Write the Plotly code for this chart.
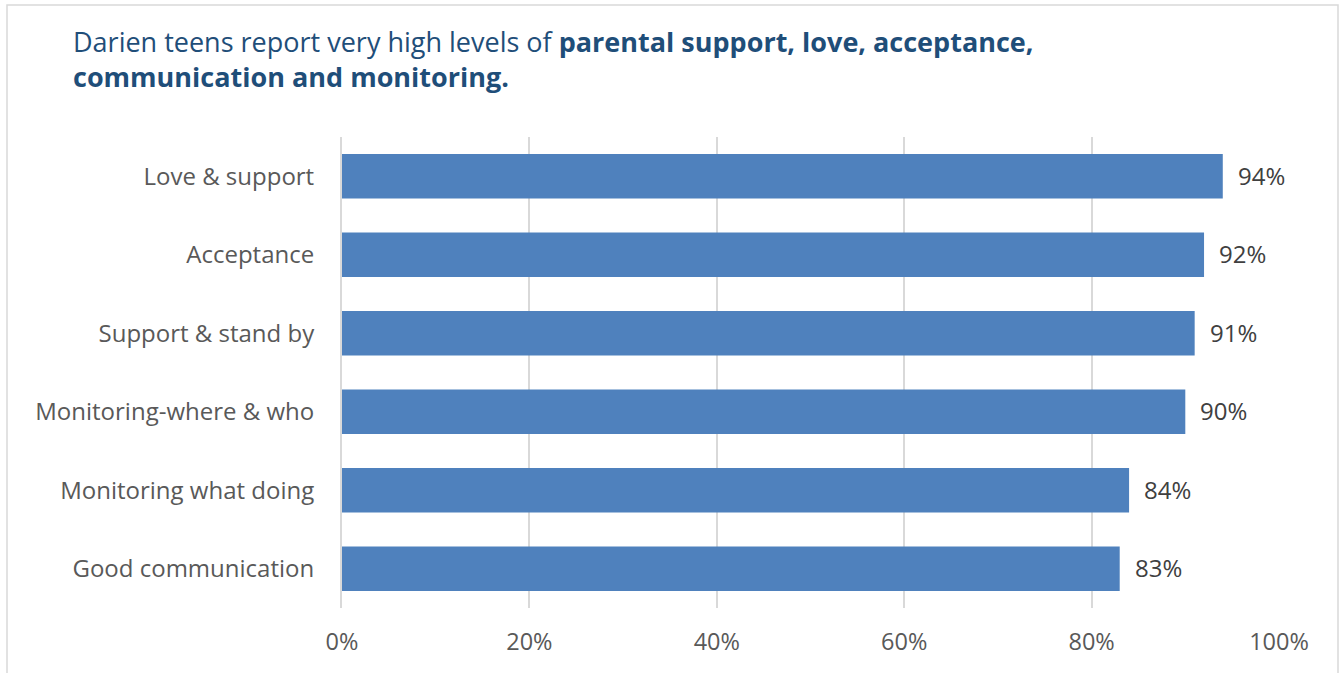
import plotly.graph_objects as go

# Share of teens agreeing with each parenting statement
categories = ["Love & support", "Acceptance", "Support & stand by",
              "Monitoring-where & who", "Monitoring what doing", "Good communication"]
values = [94, 92, 91, 90, 84, 83]
tick_vals = [0, 20, 40, 60, 80, 100]
tick_text = ["0%", "20%", "40%", "60%", "80%", "100%"]

W, H = 1340, 673
L, R, T, B = 342, 61, 137, 65
pw, ph = W - L - R, H - T - B
FONT = "Open Sans, sans-serif"

fig = go.Figure(go.Bar(
    x=values,
    y=categories,
    orientation="h",
    marker=dict(color="#4F81BD", line=dict(width=0)),
    hoverinfo="skip",
))

# Value labels just right of each bar end
for cat, v in zip(categories, values):
    fig.add_annotation(
        x=v, y=cat, xref="x", yref="y",
        text=f"{v}%", showarrow=False,
        xanchor="left", yanchor="middle", xshift=13, yshift=1,
        font=dict(family=FONT, size=24, color="#404040"),
    )

# Chart heading, two lines, partly bold
fig.add_annotation(
    x=(72 - L) / pw, y=(H - B - 22) / ph, xref="paper", yref="paper",
    xanchor="left", yanchor="top", align="left", showarrow=False,
    borderpad=0,
    text="Darien teens report very high levels of <b>parental support, love, acceptance,</b><br><b>communication and monitoring.</b>",
    font=dict(family=FONT, size=27, color="#1F4E79"),
)

fig.update_layout(
    width=W, height=H,
    margin=dict(l=L, r=R, t=T, b=B),
    paper_bgcolor="white",
    plot_bgcolor="white",
    bargap=0.43,
    showlegend=False,
    xaxis=dict(
        range=[0, 100],
        tickvals=tick_vals,
        ticktext=tick_text,
        showgrid=True, gridcolor="#D9D9D9", gridwidth=2,
        zeroline=False, showline=False,
        ticks="outside", ticklen=13, tickcolor="rgba(0,0,0,0)",
        tickfont=dict(family=FONT, size=23.5, color="#595959"),
        fixedrange=True,
    ),
    yaxis=dict(
        categoryorder="array",
        categoryarray=categories[::-1],
        showgrid=False, zeroline=False,
        showline=True, linecolor="#D9D9D9", linewidth=2,
        ticks="outside", ticklen=21, tickcolor="rgba(0,0,0,0)",
        tickfont=dict(family=FONT, size=24, color="#595959"),
        fixedrange=True,
    ),
    shapes=[dict(
        type="rect", xref="paper", yref="paper",
        x0=(7 - L) / pw, x1=(1338 - L) / pw,
        y0=-0.5, y1=(H - B - 5) / ph,
        line=dict(color="#D9D9D9", width=1.5), fillcolor="rgba(0,0,0,0)",
        layer="below",
    )],
)

fig.write_html("out.html")
